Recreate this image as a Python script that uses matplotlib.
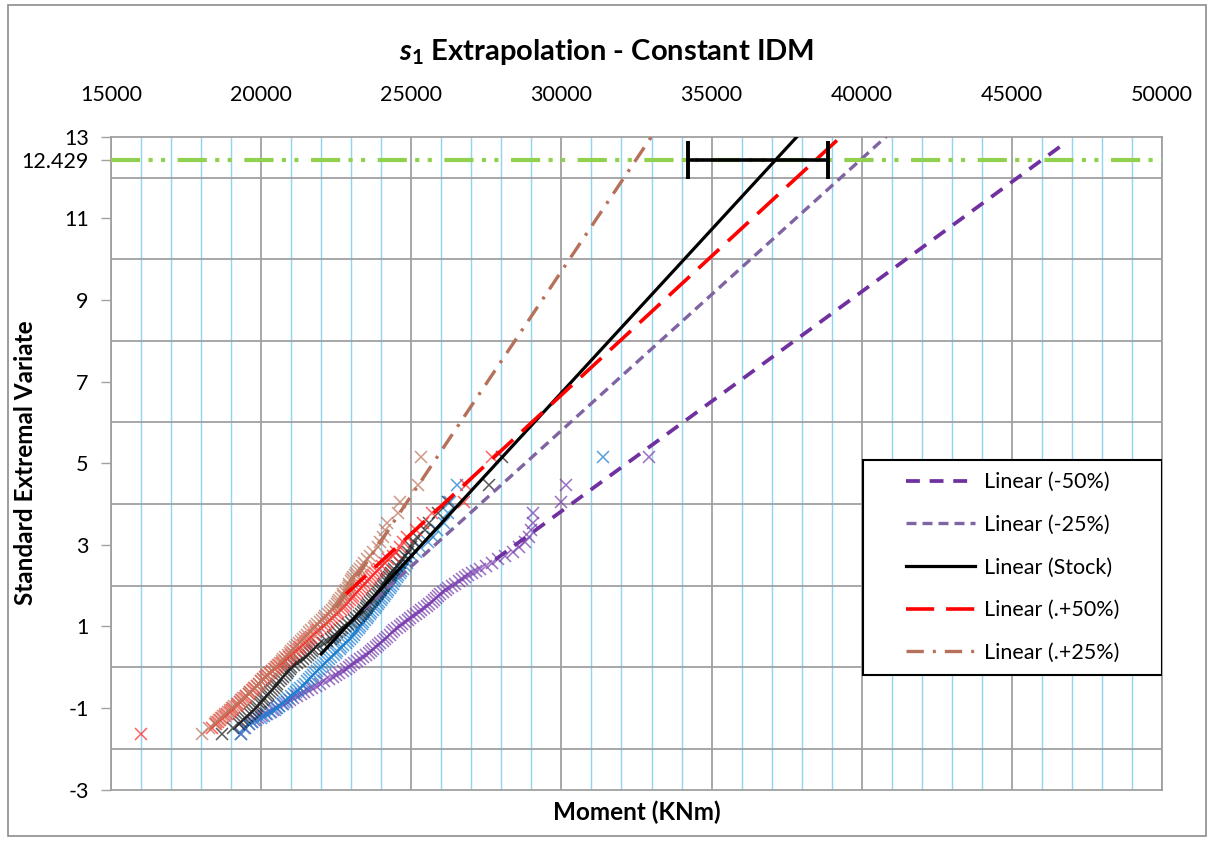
import numpy as np
import matplotlib
matplotlib.use("Agg")
import matplotlib.pyplot as plt
from matplotlib.ticker import MultipleLocator
from matplotlib.patches import Rectangle

plt.rcParams['font.family'] = ['Lato', 'DejaVu Sans']
plt.rcParams['mathtext.fontset'] = 'custom'
plt.rcParams['mathtext.it'] = 'Lato:italic:bold'
plt.rcParams['mathtext.rm'] = 'Lato:bold'

# standard extremal variate levels (y) shared by all series
evar = [-1.64, -1.50, -1.40, -1.35, -1.30, -1.25, -1.20, -1.15, -1.10, -1.05,
        -1.00, -0.95, -0.90, -0.85, -0.80, -0.75, -0.70, -0.65, -0.60, -0.55,
        -0.50, -0.45, -0.40, -0.35, -0.30, -0.25, -0.20, -0.15, -0.10, -0.05,
        0.00, 0.05, 0.10, 0.15, 0.20, 0.25, 0.30, 0.35, 0.40, 0.45,
        0.50, 0.55, 0.60, 0.65, 0.70, 0.75, 0.80, 0.85, 0.90, 0.95,
        1.00, 1.05, 1.10, 1.15, 1.20, 1.25, 1.30, 1.35, 1.40, 1.45,
        1.50, 1.55, 1.60, 1.65, 1.70, 1.75, 1.80, 1.85, 1.90, 1.95,
        2.00, 2.05, 2.10, 2.15, 2.20, 2.25, 2.30, 2.35, 2.41, 2.48,
        2.56, 2.64, 2.73, 2.83, 2.94, 3.06, 3.20, 3.36, 3.54, 3.77,
        4.06, 4.47, 5.16]

# moment (KNm) of each series at those levels
m_minus50 = [19330, 19450, 19600, 19680, 19750, 19880, 20020, 20150, 20280, 20400,
             20500, 20600, 20720, 20850, 20950, 21050, 21190, 21330, 21440, 21550,
             21690, 21820, 21960, 22100, 22250, 22400, 22500, 22600, 22710, 22820,
             22910, 23000, 23100, 23200, 23300, 23400, 23490, 23580, 23660, 23740,
             23820, 23900, 23970, 24050, 24120, 24200, 24280, 24360, 24440, 24520,
             24610, 24700, 24790, 24880, 24970, 25060, 25160, 25250, 25330, 25420,
             25510, 25600, 25680, 25760, 25830, 25900, 25970, 26050, 26140, 26230,
             26340, 26450, 26580, 26700, 26800, 26900, 27020, 27150, 27300, 27480,
             27680, 27900, 28130, 28400, 28600, 28780, 28930, 28990, 29040, 29050,
             29990, 30150, 32920]
m_minus25 = [19330, 19420, 19600, 19700, 19820, 19980, 20090, 20200, 20330, 20450,
             20520, 20600, 20680, 20750, 20830, 20900, 20990, 21080, 21160, 21240,
             21310, 21380, 21450, 21520, 21590, 21650, 21720, 21780, 21850, 21920,
             21980, 22050, 22130, 22200, 22270, 22340, 22410, 22480, 22540, 22610,
             22670, 22740, 22810, 22880, 22950, 23020, 23080, 23140, 23200, 23250,
             23300, 23350, 23400, 23450, 23510, 23560, 23620, 23670, 23730, 23780,
             23840, 23890, 23940, 23990, 24040, 24090, 24140, 24190, 24240, 24290,
             24330, 24380, 24420, 24470, 24520, 24570, 24610, 24660, 24720, 24790,
             24860, 24940, 25030, 25150, 25300, 25550, 25720, 25850, 26100, 26220,
             26300, 26520, 31380]
m_stock = [18690, 19075, 19250, 19330, 19390, 19470, 19540, 19630, 19700, 19770,
           19820, 19870, 19950, 20010, 20060, 20110, 20180, 20240, 20310, 20370,
           20420, 20480, 20540, 20610, 20670, 20720, 20790, 20850, 20900, 20950,
           21010, 21080, 21190, 21300, 21390, 21480, 21550, 21620, 21680, 21740,
           21820, 21900, 22050, 22200, 22310, 22400, 22460, 22520, 22610, 22700,
           22800, 22900, 23000, 23100, 23170, 23250, 23310, 23380, 23430, 23480,
           23520, 23560, 23620, 23680, 23740, 23800, 23850, 23900, 23950, 24000,
           24050, 24100, 24150, 24200, 24250, 24300, 24340, 24390, 24440, 24520,
           24610, 24700, 24800, 24900, 25000, 25090, 25200, 25450, 25600, 25890,
           26230, 27600, 28020]
m_plus50 = [16000, 18360, 18500, 18560, 18640, 18700, 18810, 18860, 18960, 19020,
            19060, 19180, 19230, 19310, 19370, 19450, 19490, 19580, 19640, 19730,
            19770, 19850, 19920, 20000, 20060, 20130, 20210, 20300, 20360, 20450,
            20530, 20610, 20700, 20780, 20850, 20940, 20990, 21070, 21160, 21250,
            21290, 21380, 21460, 21530, 21600, 21670, 21750, 21840, 21890, 21980,
            22080, 22150, 22210, 22280, 22360, 22440, 22510, 22570, 22650, 22720,
            22760, 22830, 22890, 22960, 23010, 23060, 23130, 23190, 23250, 23320,
            23400, 23470, 23510, 23590, 23660, 23730, 23790, 23850, 23940, 24010,
            24120, 24240, 24380, 24500, 24610, 24720, 24850, 25150, 25400, 25700,
            26770, 26830, 27690]
m_plus25 = [18020, 18250, 18450, 18500, 18590, 18660, 18720, 18800, 18880, 18960,
            19030, 19110, 19190, 19280, 19340, 19410, 19500, 19580, 19640, 19710,
            19790, 19860, 19920, 19980, 20070, 20150, 20210, 20270, 20360, 20430,
            20490, 20550, 20620, 20690, 20740, 20800, 20890, 20960, 21010, 21070,
            21140, 21210, 21260, 21320, 21400, 21470, 21520, 21580, 21670, 21750,
            21800, 21870, 21950, 22030, 22080, 22140, 22220, 22290, 22350, 22410,
            22470, 22530, 22560, 22600, 22660, 22710, 22740, 22780, 22840, 22880,
            22910, 22940, 22990, 23040, 23070, 23110, 23170, 23230, 23300, 23360,
            23430, 23510, 23630, 23740, 23880, 23950, 24060, 24140, 24180, 24550,
            24640, 25220, 25330]

# linear trendlines  y = slope * x + icpt
trend_labels = ["Linear (-50%)", "Linear (-25%)", "Linear (Stock)", "Linear (.+50%)", "Linear (.+25%)"]
trend_slope = [0.000538, 0.000666, 0.0008, 0.00068, 0.0011]
trend_icpt = [-12.318, -14.18, -17.275, -13.729, -23.297]
trend_from = [27800, 23000, 22000, 22800, 22500]
trend_to = [46750, 40820, 37850, 39180, 33000]

target_evar = 12.429
ci_moment = [34230, 38885]

series = [m_minus50, m_minus25, m_stock, m_plus50, m_plus25]
marker_colors = ['#7A3FB0', '#1F80D0', '#222222', '#FF2A2A', '#C0775E']
line_styles = [
    dict(color='#7030A0', lw=2.7, dashes=(3.7, 2.6)),
    dict(color='#8064A2', lw=2.4, dashes=(3.0, 1.8)),
    dict(color='black', lw=2.3, ls='-'),
    dict(color='#FF0000', lw=2.6, dashes=(7.8, 3.3)),
    dict(color='#B7705A', lw=2.4, dashes=(5.2, 2.7, 0.9, 2.7)),
]

fig = plt.figure(figsize=(12.14, 8.41), dpi=100)
ax = fig.add_axes([111/1214, 1 - 789.6/841, (1162-111)/1214, (789.6-136.7)/841])

for xs, c in zip(series, marker_colors):
    ax.plot(xs, evar, ls='none', marker='x', ms=8.5, mew=1.1, color=c, alpha=0.75, zorder=2)

handles = []
for i in range(len(trend_labels)):
    xt = np.array([trend_from[i], trend_to[i]])
    ln, = ax.plot(xt, trend_slope[i]*xt + trend_icpt[i], label=trend_labels[i], zorder=3, **line_styles[i])
    handles.append(ln)

ax.axhline(target_evar, color='#92D050', lw=3.0, dashes=(7, 2, 1, 2, 1, 3), zorder=3)

ci_mid = (ci_moment[0] + ci_moment[1]) / 2
ci_half = (ci_moment[1] - ci_moment[0]) / 2
ax.errorbar([ci_mid], [target_evar], xerr=[ci_half], fmt='none', ecolor='black',
            elinewidth=2.6, capsize=14, capthick=2.8, zorder=4)

ax.set_xlim(15000, 50000)
ax.set_ylim(-3, 13)
ax.xaxis.tick_top()
ax.xaxis.set_label_position('bottom')
ax.xaxis.set_major_locator(MultipleLocator(5000))
ax.xaxis.set_minor_locator(MultipleLocator(1000))
ax.tick_params(axis='x', which='both', length=0, pad=23, labelsize=15.5)

yt = [-3, -1, 1, 3, 5, 7, 9, 11, target_evar, 13]
ax.set_yticks(yt, [str(v) if v != target_evar else "12.429" for v in yt])
ax.yaxis.set_minor_locator(MultipleLocator(1))
ax.tick_params(axis='y', which='major', length=7, width=1, color='#A0A0A0', pad=9, labelsize=15.5)
ax.tick_params(axis='y', which='minor', length=0)

ax.grid(False)
ax.grid(which='minor', axis='x', color='#8DD5F2', lw=1.0)
ax.grid(which='major', axis='x', color='#A0A0A0', lw=1.3)
ax.grid(which='minor', axis='y', color='#A0A0A0', lw=1.3)
ax.set_axisbelow(True)
for s in ax.spines.values():
    s.set_color('#A0A0A0')
    s.set_linewidth(1.3)

ax.set_xlabel("Moment (KNm)", fontsize=17.5, fontweight='bold', labelpad=8)
ax.set_ylabel("Standard Extremal Variate", fontsize=17.5, fontweight='bold')
ax.yaxis.set_label_coords(-0.0704, 0.5)
fig.text(0.5, 1 - 52/841, r"$\mathit{s_1}$ Extrapolation - Constant IDM",
         ha='center', va='center', fontsize=21, fontweight='bold')

# legend box
box_x0 = (863 - 111) / 1051
box_y0 = 1 - (675 - 136.7) / 652.9
box_y1 = 1 - (460 - 136.7) / 652.9
ax.add_patch(Rectangle((box_x0, box_y0), 1 - box_x0, box_y1 - box_y0, transform=ax.transAxes,
                       facecolor='white', edgecolor='black', lw=1.5, zorder=5))
leg = ax.legend(handles=handles, loc='center', bbox_to_anchor=((box_x0 + 1) / 2, (box_y0 + box_y1) / 2),
                frameon=False, fontsize=15.5, handlelength=3.2, handletextpad=0.4, labelspacing=1.05)
leg.set_zorder(6)

fig.add_artist(Rectangle((8/1214, 5/841), (1206-8)/1214, (836-5)/841, transform=fig.transFigure,
                         fill=False, edgecolor='#8C8C8C', lw=1.2))

fig.savefig("out.png", dpi=100)
